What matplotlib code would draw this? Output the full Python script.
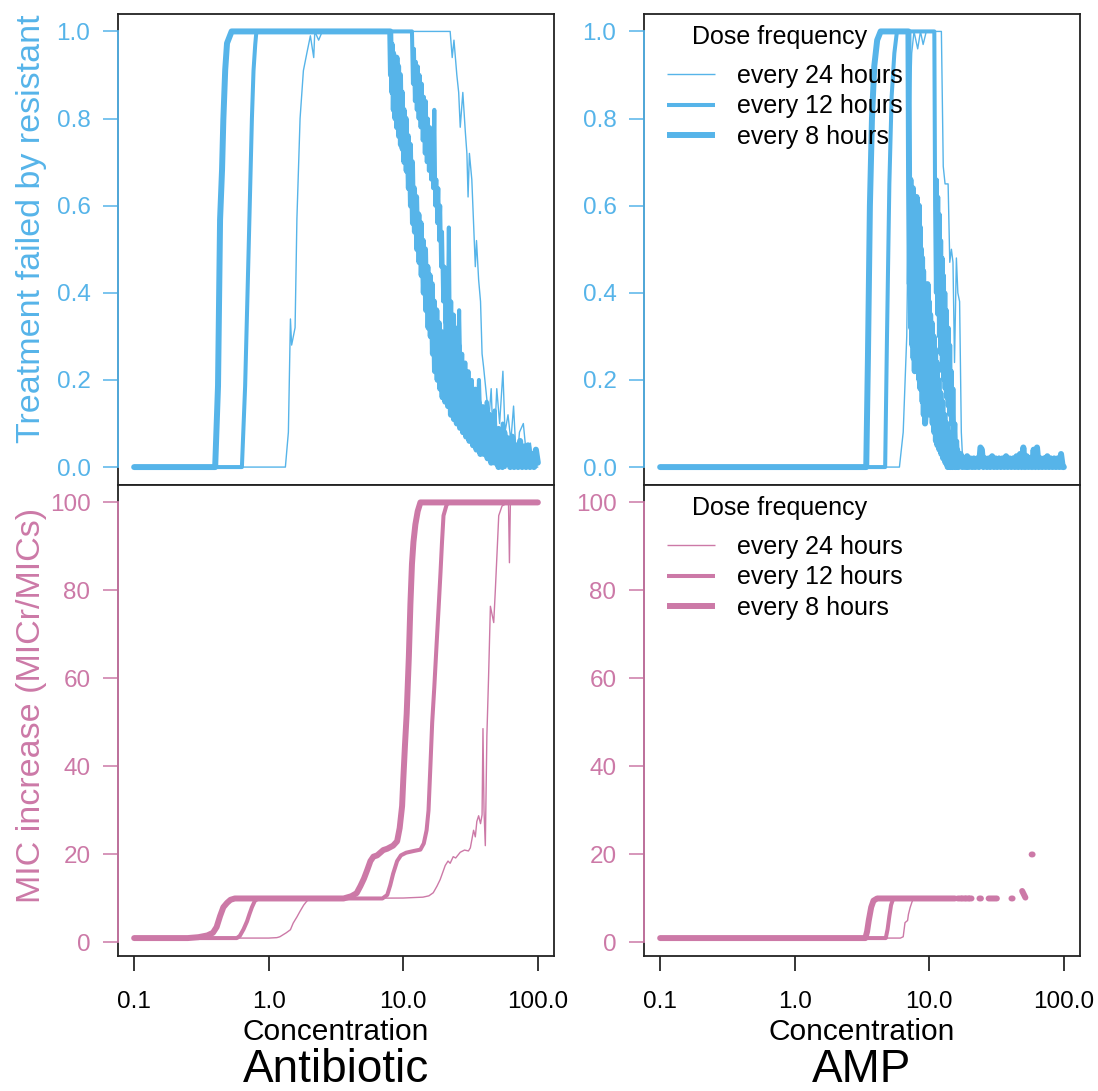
import numpy as np
import matplotlib
matplotlib.use("Agg")
import matplotlib.pyplot as plt
from matplotlib.lines import Line2D
from matplotlib.ticker import NullLocator

plt.rcParams['font.family'] = ['Liberation Sans', 'DejaVu Sans']

BLUE = '#56B4E9'
PINK = '#CC79A7'

dose_labels = ['every 24 hours', 'every 12 hours', 'every 8 hours']
legend_title = 'Dose frequency'
drug_names = ['Antibiotic', 'AMP']
x_ticks = [0.1, 1.0, 10.0, 100.0]
x_tick_labels = ['0.1', '1.0', '10.0', '100.0']
fail_ticks = [0.0, 0.2, 0.4, 0.6, 0.8, 1.0]
fail_tick_labels = ['0.0', '0.2', '0.4', '0.6', '0.8', '1.0']
mic_ticks = [0, 20, 40, 60, 80, 100]
mic_tick_labels = ['0', '20', '40', '60', '80', '100']

# ---------- Antibiotic: treatment failed by resistant (concentration, fraction) ----------
ab_fail_24h = [(0.1, 0), (1.33, 0), (1.40, 0.08), (1.45, 0.34), (1.48, 0.28), (1.57, 0.32),
               (1.62, 0.57), (1.71, 0.80), (1.81, 0.91), (1.92, 0.95), (2.04, 0.99), (2.16, 0.94),
               (2.20, 1.0), (2.35, 0.98), (2.50, 1.0), (22.3, 1.0), (23.1, 0.94), (23.8, 0.98),
               (25.0, 0.90), (25.8, 0.86), (26.5, 0.78), (27.7, 0.86), (28.9, 0.77), (29.7, 0.72),
               (30.3, 0.62), (31.0, 0.72), (32.3, 0.66), (34.3, 0.46), (35.0, 0.52), (36.3, 0.43),
               (37.5, 0.38), (38.5, 0.26), (39.5, 0.23), (41.8, 0.155), (43.5, 0.12), (45.0, 0.18),
               (47.0, 0.02), (49.5, 0.18), (52.0, 0.10), (55.0, 0.22), (57.0, 0.08), (60.0, 0.12),
               (63.0, 0.06), (66.0, 0.14), (69.6, 0.0), (73.0, 0.08), (78.0, 0.10), (82.0, 0.03),
               (88.0, 0.055), (92.5, 0.0), (100.0, 0.0)]
ab_fail_12h = [(0.1, 0), (0.632, 0), (0.668, 0.186), (0.708, 0.49), (0.75, 0.80), (0.771, 0.91),
               (0.794, 0.97), (0.81, 1.0), (11.6, 1.0), (11.8, 0.88), (12.0, 0.96), (12.2, 0.84),
               (12.4, 0.93), (12.6, 0.82), (12.8, 0.92), (13.0, 0.80), (13.2, 0.90), (13.45, 0.78),
               (13.7, 0.88), (13.95, 0.75), (14.2, 0.85), (14.45, 0.72), (14.7, 0.84), (14.95, 0.70),
               (15.2, 0.80), (15.5, 0.68), (15.8, 0.78), (16.1, 0.66), (16.4, 0.74), (16.7, 0.64),
               (17.0, 0.82), (17.3, 0.60), (17.6, 0.66), (17.9, 0.56), (18.2, 0.64), (18.5, 0.52),
               (18.8, 0.60), (19.1, 0.46), (19.4, 0.54), (19.8, 0.38), (20.2, 0.46), (20.6, 0.33),
               (21.0, 0.42), (21.4, 0.30), (21.8, 0.55), (22.2, 0.26), (22.7, 0.38), (23.2, 0.23),
               (23.7, 0.35), (24.2, 0.20), (24.8, 0.32), (25.4, 0.18), (26.0, 0.36), (26.7, 0.16),
               (27.4, 0.26), (28.1, 0.14), (28.9, 0.24), (29.7, 0.12), (30.5, 0.22), (31.4, 0.10),
               (32.3, 0.20), (33.3, 0.09), (34.3, 0.18), (35.4, 0.08), (36.5, 0.20), (37.7, 0.06),
               (39.0, 0.14), (40.3, 0.05), (41.7, 0.15), (43.1, 0.04), (44.6, 0.12), (46.1, 0.03),
               (47.7, 0.13), (49.4, 0.02), (51.2, 0.09), (53.0, 0.01), (54.9, 0.10), (56.9, 0.0),
               (59.0, 0.07), (61.2, 0.01), (63.5, 0.06), (65.9, 0.0), (68.4, 0.05), (71.0, 0.0),
               (73.7, 0.04), (76.5, 0.01), (79.4, 0.05), (82.4, 0.0), (85.5, 0.03), (88.7, 0.0),
               (92.0, 0.03), (95.5, 0.0), (100.0, 0.02)]
ab_fail_8h = [(0.1, 0), (0.40, 0), (0.42, 0.186), (0.435, 0.568), (0.45, 0.683), (0.46, 0.797),
              (0.475, 0.912), (0.49, 0.973), (0.53, 1.0), (8.0, 1.0), (8.1, 0.90), (8.2, 0.97),
              (8.3, 0.86), (8.4, 0.95), (8.5, 0.82), (8.6, 0.93), (8.75, 0.80), (8.9, 0.94),
              (9.0, 0.78), (9.15, 0.92), (9.3, 0.76), (9.45, 0.90), (9.6, 0.74), (9.75, 0.86),
              (9.9, 0.73), (10.05, 0.82), (10.2, 0.70), (10.4, 0.80), (10.6, 0.68), (10.8, 0.76),
              (11.0, 0.64), (11.2, 0.74), (11.4, 0.60), (11.6, 0.70), (11.8, 0.56), (12.0, 0.64),
              (12.2, 0.54), (12.45, 0.62), (12.7, 0.50), (12.95, 0.58), (13.2, 0.47), (13.45, 0.56),
              (13.7, 0.44), (13.95, 0.52), (14.2, 0.40), (14.5, 0.50), (14.8, 0.36), (15.1, 0.46),
              (15.4, 0.32), (15.7, 0.44), (16.0, 0.30), (16.3, 0.42), (16.6, 0.26), (16.9, 0.38),
              (17.2, 0.22), (17.6, 0.36), (18.0, 0.20), (18.4, 0.33), (18.8, 0.18), (19.2, 0.31),
              (19.6, 0.16), (20.0, 0.30), (20.5, 0.15), (21.0, 0.38), (21.5, 0.14), (22.0, 0.27),
              (22.6, 0.12), (23.2, 0.24), (23.8, 0.11), (24.4, 0.22), (25.0, 0.10), (25.7, 0.28),
              (26.4, 0.09), (27.1, 0.20), (27.8, 0.08), (28.5, 0.22), (29.3, 0.07), (30.1, 0.17),
              (31.0, 0.06), (32.0, 0.18), (33.0, 0.05), (34.0, 0.14), (35.0, 0.04), (36.2, 0.15),
              (37.4, 0.03), (38.6, 0.12), (39.8, 0.03), (41.0, 0.11), (42.3, 0.02), (43.6, 0.12),
              (45.0, 0.01), (46.5, 0.09), (48.0, 0.01), (49.5, 0.08), (51.0, 0.0), (52.7, 0.07),
              (54.5, 0.0), (56.3, 0.08), (58.2, 0.01), (60.2, 0.06), (62.3, 0.0), (64.4, 0.07),
              (66.6, 0.0), (68.9, 0.05), (71.3, 0.0), (73.8, 0.06), (76.4, 0.0), (79.0, 0.04),
              (81.7, 0.0), (84.5, 0.05), (87.4, 0.0), (90.4, 0.03), (93.5, 0.0), (96.7, 0.04),
              (100.0, 0.01)]

# ---------- AMP: treatment failed by resistant ----------
amp_fail_24h = [(0.1, 0), (6.0, 0), (6.4, 0.08), (6.8, 0.30), (7.1, 0.75), (7.4, 0.95), (7.7, 1.0),
                (8.2, 0.96), (8.6, 1.0), (9.0, 0.97), (9.5, 1.0), (12.3, 1.0), (12.7, 0.69),
                (13.1, 0.65), (13.8, 0.65), (14.2, 0.47), (14.6, 0.50), (15.0, 0.47), (15.4, 0.24),
                (15.9, 0.48), (16.3, 0.40), (16.8, 0.38), (17.3, 0.08), (17.8, 0.0), (30.0, 0.0),
                (30.5, 0.02), (31.0, 0.0), (62.0, 0.0), (62.5, 0.02), (63.0, 0.0), (95.0, 0.0),
                (96.0, 0.02), (97.0, 0.0), (100.0, 0.0)]
amp_fail_12h = [(0.1, 0), (4.70, 0), (4.85, 0.3), (5.05, 0.65), (5.25, 0.85), (5.5, 0.95),
                (5.75, 1.0), (10.9, 1.0), (11.05, 0.60), (11.2, 0.40), (11.35, 0.66), (11.5, 0.35),
                (11.65, 0.62), (11.8, 0.30), (11.95, 0.58), (12.1, 0.26), (12.25, 0.52), (12.4, 0.22),
                (12.55, 0.48), (12.7, 0.20), (12.85, 0.44), (13.0, 0.18), (13.15, 0.40), (13.3, 0.16),
                (13.5, 0.36), (13.7, 0.14), (13.9, 0.32), (14.1, 0.12), (14.3, 0.28), (14.5, 0.10),
                (14.7, 0.22), (14.9, 0.06), (15.1, 0.18), (15.35, 0.04), (15.6, 0.10), (15.85, 0.02),
                (16.1, 0.06), (16.4, 0.0), (16.7, 0.03), (17.0, 0.0), (18.0, 0.02), (19.0, 0.0),
                (21.0, 0.02), (23.0, 0.0), (26.0, 0.02), (28.0, 0.0), (33.0, 0.02), (36.0, 0.0),
                (42.0, 0.02), (45.0, 0.0), (55.0, 0.02), (60.0, 0.0), (75.0, 0.02), (80.0, 0.0),
                (100.0, 0.0)]
amp_fail_8h = [(0.1, 0), (3.40, 0), (3.50, 0.25), (3.62, 0.60), (3.75, 0.80), (3.90, 0.92),
               (4.10, 0.98), (4.35, 1.0), (7.0, 1.0), (7.08, 0.64), (7.16, 0.42), (7.24, 0.66),
               (7.32, 0.32), (7.40, 0.62), (7.48, 0.28), (7.56, 0.64), (7.64, 0.25), (7.72, 0.60),
               (7.80, 0.22), (7.88, 0.58), (7.96, 0.30), (8.04, 0.62), (8.12, 0.22), (8.20, 0.56),
               (8.28, 0.26), (8.36, 0.60), (8.44, 0.20), (8.52, 0.55), (8.60, 0.18), (8.68, 0.50),
               (8.76, 0.20), (8.84, 0.48), (8.92, 0.15), (9.0, 0.45), (9.1, 0.12), (9.2, 0.40),
               (9.3, 0.10), (9.4, 0.12), (9.5, 0.38), (9.6, 0.12), (9.7, 0.42), (9.8, 0.18),
               (9.9, 0.38), (10.0, 0.15), (10.15, 0.35), (10.3, 0.12), (10.45, 0.33), (10.6, 0.10),
               (10.75, 0.30), (10.9, 0.08), (11.05, 0.27), (11.2, 0.06), (11.35, 0.24), (11.5, 0.05),
               (11.7, 0.20), (11.9, 0.04), (12.1, 0.17), (12.3, 0.03), (12.5, 0.15), (12.7, 0.02),
               (12.95, 0.12), (13.2, 0.01), (13.45, 0.10), (13.7, 0.0), (14.0, 0.08), (14.3, 0.0),
               (14.6, 0.06), (14.9, 0.0), (15.3, 0.04), (15.7, 0.0), (16.1, 0.04), (16.5, 0.0),
               (17.1, 0.03), (17.6, 0.0), (18.1, 0.02), (18.6, 0.0), (19.1, 0.025), (19.6, 0.0),
               (20.2, 0.02), (20.8, 0.0), (21.4, 0.02), (22.0, 0.0), (22.7, 0.02), (23.4, 0.0),
               (24.0, 0.045), (24.6, 0.04), (25.2, 0.0), (26.0, 0.02), (26.8, 0.0), (27.6, 0.02),
               (28.4, 0.0), (29.3, 0.025), (30.2, 0.0), (31.1, 0.02), (32.0, 0.0), (33.0, 0.02),
               (34.0, 0.0), (35.0, 0.02), (36.1, 0.0), (37.2, 0.025), (38.3, 0.0), (39.5, 0.02),
               (40.7, 0.0), (41.9, 0.02), (43.2, 0.0), (44.5, 0.025), (45.8, 0.0), (47.2, 0.03),
               (48.6, 0.0), (50.0, 0.045), (51.5, 0.0), (53.0, 0.025), (54.6, 0.0), (56.2, 0.02),
               (57.9, 0.0), (59.6, 0.04), (61.4, 0.0), (63.2, 0.045), (65.1, 0.0), (67.0, 0.02),
               (69.0, 0.0), (71.1, 0.02), (73.2, 0.0), (75.4, 0.025), (77.6, 0.0), (80.0, 0.02),
               (82.3, 0.0), (84.8, 0.02), (87.3, 0.0), (89.9, 0.02), (92.6, 0.0), (95.3, 0.03),
               (98.2, 0.0), (100.0, 0.0)]

# ---------- Antibiotic: MIC increase (MICr/MICs) ----------
ab_mic_24h = [(0.1, 1), (1.0, 1), (1.15, 1.1), (1.21, 1.3), (1.35, 2.2), (1.45, 2.9), (1.52, 4.4),
              (1.62, 5.8), (1.71, 7.1), (1.82, 8.5), (1.92, 9.4), (2.04, 10), (10.0, 10.1),
              (14.0, 10.3), (15.5, 10.6), (16.7, 11.3), (17.8, 12.8), (18.8, 14.3), (20.5, 17.5),
              (21.5, 18.5), (22.3, 18.0), (23.5, 19.5), (24.5, 19.2), (26.5, 20.5), (28.5, 21.0),
              (30.5, 20.8), (31.5, 21.5), (33.3, 25.5), (34.3, 24.0), (35.2, 27.5), (36.3, 28.8),
              (37.5, 27.0), (38.5, 29.0), (39.1, 48.6), (39.8, 30.0), (40.7, 22.0), (41.8, 47.0),
              (43.0, 60.0), (44.4, 76.4), (47.0, 72.7), (48.3, 80.0), (50.0, 90.0), (51.2, 97.0),
              (54.2, 99.2), (60.5, 100), (61.5, 86.3), (62.5, 100), (100.0, 100)]
ab_mic_12h = [(0.1, 1), (0.58, 1), (0.61, 1.5), (0.65, 3), (0.69, 4.8), (0.72, 6.5), (0.75, 8),
              (0.79, 9.5), (0.84, 10), (7.0, 10), (7.6, 10.8), (8.0, 13), (8.4, 15.6), (9.0, 18.5),
              (9.6, 19.8), (10.5, 20.4), (12.0, 20.8), (13.4, 21.1), (14.2, 22.5), (14.9, 25.5),
              (15.4, 30), (15.9, 40), (16.4, 50), (17.0, 58), (17.7, 68), (18.3, 76), (18.9, 84),
              (19.4, 91), (19.9, 97), (21.0, 99.5), (22.0, 100), (100.0, 100)]
ab_mic_8h = [(0.1, 1), (0.25, 1), (0.30, 1.2), (0.35, 1.6), (0.385, 2.2), (0.41, 3.5),
             (0.435, 6.0), (0.46, 8.0), (0.49, 9.0), (0.52, 9.7), (0.56, 10), (3.6, 10),
             (4.1, 10.5), (4.5, 11.2), (4.8, 12.8), (5.1, 14.5), (5.4, 16.5), (5.7, 18.5),
             (6.0, 19.5), (6.4, 19.8), (6.8, 20.5), (7.1, 21), (7.6, 21.3), (8.4, 22), (9.0, 23),
             (9.4, 26), (9.8, 31), (10.0, 37), (10.3, 45), (10.6, 52), (11.0, 65), (11.3, 77),
             (11.6, 86), (11.9, 91), (12.3, 95), (12.8, 98), (13.4, 100), (100.0, 100)]

# ---------- AMP: MIC increase (gaps where values are missing) ----------
amp_mic_24h = [(0.1, 1), (6.1, 1), (6.4, 1.3), (6.6, 4.5), (6.9, 5.0), (7.0, 6.4), (7.2, 7.9),
               (7.4, 9.0), (7.6, 10), (15.0, 10)]
amp_mic_12h = [(0.1, 1), (4.75, 1), (4.9, 3), (5.05, 6), (5.2, 8.5), (5.4, 10), (15.0, 10)]
amp_mic_8h = [(0.1, 1), (3.35, 1), (3.45, 2.5), (3.55, 5), (3.7, 8), (3.85, 9.5), (4.1, 10),
              (15.5, 10), (np.nan, np.nan), (16.3, 10), (17.2, 10), (np.nan, np.nan),
              (17.6, 10), (18.4, 10), (np.nan, np.nan), (18.8, 10), (19.6, 10),
              (np.nan, np.nan), (20.0, 10), (20.6, 10), (np.nan, np.nan), (23.6, 10),
              (24.2, 10), (np.nan, np.nan), (27.6, 10), (31.8, 10), (np.nan, np.nan),
              (40.8, 10), (41.6, 10), (np.nan, np.nan), (49.0, 11.7), (51.8, 10.2),
              (np.nan, np.nan), (57.6, 20), (58.6, 20)]

line_widths = [1.0, 2.9, 4.3]

panels = [
    # (row, col, series, color, ticks, ticklabels, ylim)
    (0, 0, [ab_fail_24h, ab_fail_12h, ab_fail_8h], BLUE, fail_ticks, fail_tick_labels, (-0.04, 1.04)),
    (0, 1, [amp_fail_24h, amp_fail_12h, amp_fail_8h], BLUE, fail_ticks, fail_tick_labels, (-0.04, 1.04)),
    (1, 0, [ab_mic_24h, ab_mic_12h, ab_mic_8h], PINK, mic_ticks, mic_tick_labels, (-2.96, 103.96)),
    (1, 1, [amp_mic_24h, amp_mic_12h, amp_mic_8h], PINK, mic_ticks, mic_tick_labels, (-2.96, 103.96)),
]

W, H = 1098, 1091
fig = plt.figure(figsize=(W / 100, H / 100), dpi=100)

col_x = [118, 644]
col_w = 436
row_top = [14, 485]
row_h = 470.5

axes = {}
for row, col, series, color, ticks, tlabels, ylim in panels:
    left = col_x[col] / W
    bottom = 1 - (row_top[row] + row_h) / H
    ax = fig.add_axes([left, bottom, col_w / W, row_h / H])
    axes[(row, col)] = ax
    for data, lw in zip(series, line_widths):
        arr = np.array(data, dtype=float)
        ax.plot(arr[:, 0], arr[:, 1], color=color, lw=lw,
                solid_capstyle='round', solid_joinstyle='round')
    ax.set_xscale('log')
    ax.set_xlim(10 ** -1.12, 10 ** 2.12)
    ax.set_ylim(*ylim)
    ax.set_yticks(ticks)
    ax.set_yticklabels(tlabels)
    ax.tick_params(axis='y', colors=color, length=10.8, width=1.1, pad=9,
                   labelsize=17.5, direction='out')
    if row == 1:
        ax.set_xticks(x_ticks)
        ax.set_xticklabels(x_tick_labels)
        ax.tick_params(axis='x', colors='black', length=10.8, width=1.1, pad=15,
                       labelsize=17.5, direction='out')
    else:
        ax.set_xticks([])
    ax.xaxis.set_minor_locator(NullLocator())
    for sp in ax.spines.values():
        sp.set_color('#222222')
        sp.set_linewidth(1.3)
    ax.plot([0, 0], [ticks[0], ticks[-1]], transform=ax.get_yaxis_transform(),
            color=color, lw=1.3, clip_on=False, zorder=5)

    if col == 1:
        handles = [Line2D([], [], color=color, lw=lw, solid_capstyle='butt') for lw in line_widths]
        ax.legend(handles, dose_labels, frameon=False,
                  loc='upper left', bbox_to_anchor=(0.053, 0.894), fontsize=18,
                  handlelength=1.9, handletextpad=0.9,
                  labelspacing=0.26, borderaxespad=0, borderpad=0)
        ax.text(0.312, 0.951, legend_title, transform=ax.transAxes, ha='center',
                va='center', fontsize=18)

axes[(0, 0)].set_ylabel('Treatment failed by resistant', color=BLUE, fontsize=24.5)
axes[(0, 0)].yaxis.set_label_coords(-0.163, 0.543)
axes[(1, 0)].set_ylabel('MIC increase (MICr/MICs)', color=PINK, fontsize=24.5)
axes[(1, 0)].yaxis.set_label_coords(-0.163, 0.532)

for col, name in enumerate(drug_names):
    cx = (col_x[col] + col_w / 2) / W
    fig.text(cx, 1 - 1032 / H, 'Concentration', ha='center', va='center', fontsize=21.5)
    fig.text(cx, 1 - 1070 / H, name, ha='center', va='center', fontsize=33)

fig.savefig('out.png', dpi=100)
